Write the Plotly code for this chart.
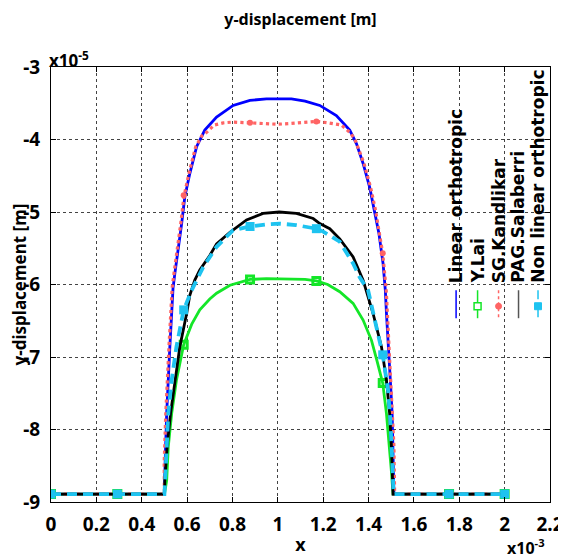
import plotly.graph_objects as go

# ---------------- data (x in units of 1e-3, y in units of 1e-5) ----------------
x_lin = [0, 0.5, 0.503, 0.510, 0.524, 0.538, 0.546, 0.561, 0.576, 0.590, 0.612, 0.642, 0.678,
         0.730, 0.803, 0.877, 0.95, 1.0, 1.06, 1.12, 1.185, 1.258, 1.317, 1.347, 1.376, 1.405,
         1.427, 1.446, 1.464, 1.474, 1.479, 1.489, 1.496, 1.504, 1.508, 1.512, 2.0]
y_lin = [-8.89, -8.89, -8.47, -7.78, -6.86, -6.05, -5.85, -5.53, -5.16, -4.79, -4.47, -4.10, -3.87,
         -3.69, -3.53, -3.46, -3.44, -3.44, -3.44, -3.47, -3.53, -3.67, -3.87, -4.06, -4.33, -4.66,
         -4.98, -5.30, -5.71, -6.08, -6.40, -6.86, -7.32, -7.78, -8.24, -8.89, -8.89]

x_lai = [0, 0.5, 0.505, 0.510, 0.517, 0.532, 0.553, 0.585, 0.620, 0.656, 0.700, 0.730, 0.789,
         0.8775, 0.95, 1.0, 1.06, 1.12, 1.17, 1.22, 1.273, 1.332, 1.376, 1.413, 1.437, 1.4625,
         1.479, 1.493, 1.500, 1.508, 2.0]
y_lai = [-8.89, -8.89, -8.80, -8.70, -8.24, -7.78, -7.32, -6.83, -6.55, -6.35, -6.20, -6.12, -6.01,
         -5.93, -5.92, -5.92, -5.92, -5.93, -5.95, -6.00, -6.10, -6.26, -6.49, -6.77, -7.05, -7.36,
         -7.78, -8.24, -8.55, -8.89, -8.89]
xm_lai = [0, 0.2925, 0.585, 0.8775, 1.17, 1.4625, 1.755, 2.0]
ym_lai = [-8.89, -8.89, -6.83, -5.93, -5.95, -7.36, -8.89, -8.89]

x_kan = [0, 0.5, 0.499, 0.506, 0.520, 0.534, 0.542, 0.557, 0.572, 0.586, 0.608, 0.638, 0.665,
         0.686, 0.72, 0.76, 0.80, 0.8775, 0.95, 1.0, 1.05, 1.12, 1.17, 1.22, 1.28, 1.317, 1.339,
         1.380, 1.409, 1.431, 1.450, 1.4625, 1.478, 1.483, 1.493, 1.500, 1.508, 1.512, 1.515, 2.0]
y_kan = [-8.89, -8.89, -8.47, -7.78, -6.86, -6.05, -5.85, -5.53, -5.16, -4.79, -4.47, -4.10, -3.95,
         -3.90, -3.80, -3.77, -3.76, -3.77, -3.78, -3.79, -3.78, -3.76, -3.75, -3.77, -3.80, -3.90, -3.99,
         -4.33, -4.66, -4.98, -5.30, -5.57, -6.08, -6.40, -6.86, -7.32, -7.78, -8.24, -8.89, -8.89]
xm_kan = [0, 0.2925, 0.585, 0.8775, 1.17, 1.4625, 1.755, 2.0]
ym_kan = [-8.89, -8.89, -4.77, -3.77, -3.75, -5.57, -8.89, -8.89]

x_sal = [0, 0.5, 0.502, 0.512, 0.527, 0.546, 0.568, 0.598, 0.612, 0.634, 0.656, 0.700, 0.730,
         0.789, 0.862, 0.935, 1.006, 1.082, 1.156, 1.185, 1.229, 1.273, 1.332, 1.376, 1.420, 1.457,
         1.479, 1.493, 1.501, 1.508, 2.0]
y_sal = [-8.89, -8.89, -8.70, -8.24, -7.78, -7.32, -6.86, -6.40, -6.15, -5.94, -5.80, -5.60, -5.44,
         -5.28, -5.11, -5.02, -5.00, -5.02, -5.09, -5.16, -5.23, -5.37, -5.62, -5.94, -6.40, -6.86,
         -7.32, -7.78, -8.24, -8.89, -8.89]

x_non = [0, 0.5, 0.505, 0.517, 0.532, 0.553, 0.585, 0.620, 0.671, 0.730, 0.803, 0.8775, 0.95,
         1.006, 1.08, 1.17, 1.20, 1.273, 1.332, 1.361, 1.398, 1.427, 1.4625, 1.486, 1.496, 1.505,
         1.510, 2.0]
y_non = [-8.89, -8.89, -8.60, -7.78, -7.32, -6.86, -6.35, -6.08, -5.76, -5.48, -5.25, -5.20, -5.17,
         -5.16, -5.18, -5.23, -5.27, -5.41, -5.71, -5.90, -6.08, -6.49, -6.97, -7.46, -7.87, -8.47,
         -8.89, -8.89]
xm_non = [0, 0.2925, 0.585, 0.8775, 1.17, 1.4625, 1.755, 2.0]
ym_non = [-8.89, -8.89, -6.35, -5.20, -5.23, -6.97, -8.89, -8.89]

series_names = ["Linear orthotropic", "Y.Lai", "SG.Kandlikar", "PAG.Salaberri", "Non linear orthotropic"]
x_ticks = [0, 0.2, 0.4, 0.6, 0.8, 1, 1.2, 1.4, 1.6, 1.8, 2, 2.2]
y_ticks = [-3, -4, -5, -6, -7, -8, -9]

# ---------------- styles ----------------
C_BLUE = "#0000ff"
C_GREEN = "#14e628"
C_RED = "#ff6464"
C_BLACK = "#000000"
C_CYAN = "#1ec3f0"

# the page body has an 8px margin: the figure is drawn 8px right/down of the window corner
OFF = 8
W, H = 558, 550
ML, MR, MT, MB = 51 - OFF, 15.5, 66.5 - OFF, 56
PW, PH = W - ML - MR, H - MT - MB


def px(xp, yp):
    """window pixel -> paper coordinates"""
    xp -= OFF
    yp -= OFF
    return (xp - ML) / PW, (H - MB - yp) / PH


fig = go.Figure()
fig.add_trace(go.Scatter(x=x_lin, y=y_lin, mode="lines", line=dict(color=C_BLUE, width=2.8),
                         name=series_names[0], showlegend=False))
fig.add_trace(go.Scatter(x=x_lai, y=y_lai, mode="lines", line=dict(color=C_GREEN, width=2.8),
                         name=series_names[1], showlegend=False))
fig.add_trace(go.Scatter(x=xm_lai, y=ym_lai, mode="markers",
                         marker=dict(symbol="square-open", size=7, color=C_GREEN, line=dict(width=3, color=C_GREEN)),
                         showlegend=False))
fig.add_trace(go.Scatter(x=x_kan, y=y_kan, mode="lines", line=dict(color=C_RED, width=3.2, dash="dot"),
                         name=series_names[2], showlegend=False))
fig.add_trace(go.Scatter(x=xm_kan, y=ym_kan, mode="markers",
                         marker=dict(symbol="circle", size=6, color=C_RED), showlegend=False))
fig.add_trace(go.Scatter(x=x_sal, y=y_sal, mode="lines", line=dict(color=C_BLACK, width=2.8),
                         name=series_names[3], showlegend=False))
fig.add_trace(go.Scatter(x=x_non, y=y_non, mode="lines", line=dict(color=C_CYAN, width=3.8, dash="10px,6px"),
                         name=series_names[4], showlegend=False))
fig.add_trace(go.Scatter(x=xm_non, y=ym_non, mode="markers",
                         marker=dict(symbol="square", size=9, color=C_CYAN), showlegend=False))

FONT = "Noto Sans"
shapes = []
annotations = []

# legend background box (hides the grid behind the legend)
x0, y0 = px(447, 67.5)
x1, y1 = px(550, 323)
shapes.append(dict(type="rect", xref="paper", yref="paper", x0=x0, y0=y1, x1=x1, y1=y0,
                   fillcolor="white", line=dict(width=0), layer="between"))

leg_cols = [456.5, 478, 499, 519, 538.5]
leg_colors = [C_BLUE, C_GREEN, C_RED, "#555555", C_CYAN]
leg_dash = ["solid", "solid", "dot", "solid", "dash"]
for i, name in enumerate(series_names):
    cx = leg_cols[i]
    ax, ay = px(cx, 285)
    annotations.append(dict(text=name, xref="paper", yref="paper", x=ax, y=ay, textangle=-90,
                            xanchor="center", yanchor="bottom", showarrow=False,
                            font=dict(family="DejaVu Sans", size=17, color="black", weight="bold")))
    lx, ly0 = px(cx, 290)
    _, ly1 = px(cx, 318)
    shapes.append(dict(type="line", xref="paper", yref="paper", x0=lx, x1=lx, y0=ly0, y1=ly1,
                       line=dict(color=leg_colors[i], width=1.5, dash=leg_dash[i])))
# legend markers
mx0, my0 = px(478 - 3.5, 306 - 3.5)
mx1, my1 = px(478 + 3.5, 306 + 3.5)
shapes.append(dict(type="rect", xref="paper", yref="paper", x0=mx0, x1=mx1, y0=my1, y1=my0,
                   line=dict(color=C_GREEN, width=1.5), fillcolor="white"))
mx0, my0 = px(499 - 3, 306 - 3)
mx1, my1 = px(499 + 3, 306 + 3)
shapes.append(dict(type="circle", xref="paper", yref="paper", x0=mx0, x1=mx1, y0=my1, y1=my0,
                   line=dict(color=C_RED, width=1), fillcolor=C_RED))
mx0, my0 = px(538.5 - 3.5, 306 - 3.5)
mx1, my1 = px(538.5 + 3.5, 306 + 3.5)
shapes.append(dict(type="rect", xref="paper", yref="paper", x0=mx0, x1=mx1, y0=my1, y1=my0,
                   line=dict(color=C_CYAN, width=1), fillcolor=C_CYAN))

# exponent labels
ex, ey = px(47, 59)
annotations.append(dict(text="x10<sup>-5</sup>", xref="paper", yref="paper", x=ex, y=ey,
                        xanchor="left", yanchor="middle", showarrow=False,
                        font=dict(family=FONT, size=17, color="black", weight="bold")))
ex, ey = px(505, 547)
annotations.append(dict(text="x10<sup>-3</sup>", xref="paper", yref="paper", x=ex, y=ey,
                        xanchor="left", yanchor="middle", showarrow=False,
                        font=dict(family=FONT, size=16, color="black", weight="bold")))

axis_common = dict(showline=True, linecolor="black", linewidth=1, mirror="ticks",
                   ticks="inside", ticklen=5, tickcolor="black", tickwidth=1,
                   showgrid=True, gridcolor="#444444", griddash="dot", gridwidth=1,
                   zeroline=False, automargin=False,
                   tickfont=dict(family=FONT, size=19, color="black", weight="bold"))

fig.update_layout(
    width=W, height=H,
    margin=dict(l=ML, r=MR, t=MT, b=MB, pad=0),
    paper_bgcolor="white", plot_bgcolor="white",
    title=dict(text="y-displacement [m]", x=0.5, xref="paper", y=1 - 6 / H, yref="container",
               xanchor="center", yanchor="top",
               font=dict(family=FONT, size=16, color="black", weight="bold")),
    xaxis=dict(range=[0, 2.2], tickvals=x_ticks, ticktext=[("%g" % v) for v in x_ticks],
               ticklabelstandoff=5,
               title=dict(text="x", standoff=2, font=dict(family=FONT, size=18, color="black", weight="bold")),
               **axis_common),
    yaxis=dict(range=[-9, -3], tickvals=y_ticks, ticktext=[("%g" % v) for v in y_ticks],
               ticklabelstandoff=6,
               title=dict(text="y-displacement [m]", standoff=2,
                          font=dict(family=FONT, size=17, color="black", weight="bold")),
               **axis_common),
    shapes=shapes,
    annotations=annotations,
)

fig.write_html("out.html")
